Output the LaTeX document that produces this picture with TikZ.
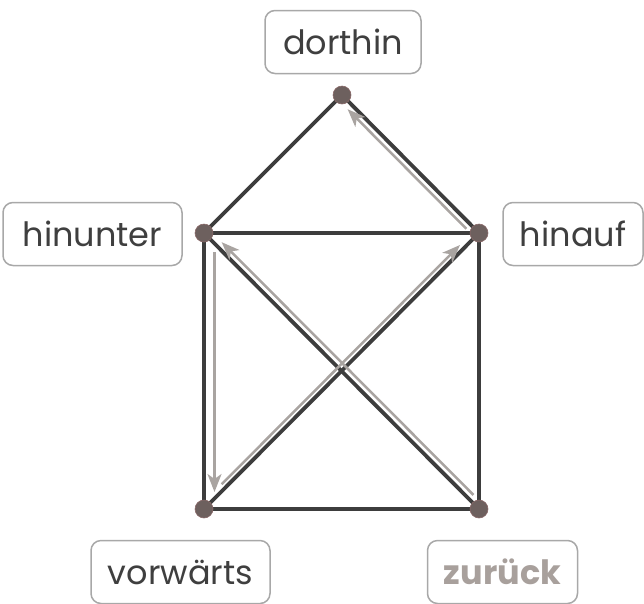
\documentclass[tikz,border=0pt]{standalone}
\usepackage{fontspec}
\setmainfont{Poppins}
\usetikzlibrary{arrows.meta}
\definecolor{edgec}{HTML}{3D3D3D}
\definecolor{arrc}{HTML}{A9A4A1}
\definecolor{dotc}{HTML}{6D605E}
\definecolor{dotb}{HTML}{8B6A6A}
\definecolor{boxc}{HTML}{A8A8A8}
\definecolor{txtc}{HTML}{3F3F3F}
\definecolor{grtxt}{HTML}{A8A09C}
\tikzset{
  edge/.style={draw=edgec, line width=3.8pt},
  arr/.style={draw=arrc, line width=2.5pt, -{Stealth[length=18pt,width=14pt,inset=5pt]}},
  vdot/.style={circle, fill=dotc, draw=dotb, line width=0.6pt, minimum size=18pt, inner sep=0pt},
  lbl/.style={draw=boxc, line width=1.5pt, rounded corners=10pt, fill=white, text=txtc,
    font=\fontsize{33.5}{38}\selectfont, minimum height=63pt, inner sep=0pt, text height=24pt, text depth=0pt}
}
\begin{document}
\begin{tikzpicture}[x=1pt,y=-1pt]
\useasboundingbox (0,0) rectangle (644,603);
\coordinate (T) at (342,95);
\coordinate (L) at (204,233);
\coordinate (R) at (479,233);
\coordinate (BL) at (204,509);
\coordinate (BR) at (479,509);
% edges
\draw[edge, line cap=round] (T) -- (L);
\draw[edge, line cap=round] (T) -- (R);
\draw[edge] (L) -- (R);
\draw[edge] (L) -- (BL);
\draw[edge] (R) -- (BR);
\draw[edge] (BL) -- (BR);
\draw[edge] (L) -- (BR);
\draw[edge] (R) -- (BL);
% arrows
\coordinate (a1s) at (466.3,228.7);
\coordinate (a1e) at (347.6,109.2);
\coordinate (a2s) at (473.4,494.9);
\coordinate (a2e) at (221.7,242.2);
\coordinate (a3s) at (221.7,484.2);
\coordinate (a3e) at (460,245);
\coordinate (a4s) at (214.5,252);
\coordinate (a4e) at (214.5,492);
\draw[arr] (a1s) -- (a1e);
\draw[arr] (a2s) -- (a2e);
\draw[arr] (a3s) -- (a3e);
\draw[arr] (a4s) -- (a4e);
% dots
\node[vdot] (dT) at (T) {};
\node[vdot] (dL) at (L) {};
\node[vdot] (dR) at (R) {};
\node[vdot] (dBL) at (BL) {};
\node[vdot] (dBR) at (BR) {};
% labels
\node[lbl, minimum width=156pt] (dorthin) at (343,42) {dorthin};
\node[lbl, minimum width=179pt] (hinunter) at (92.5,234) {hinunter};
\node[lbl, minimum width=140pt] (hinauf) at (573,234) {hinauf};
\node[lbl, minimum width=179pt] (vorwaerts) at (180.5,572) {vorwärts};
\node[lbl, minimum width=150pt, text=grtxt, font=\fontsize{33.5}{38}\selectfont\bfseries] (zurueck) at (502.5,572) {zurück};
\end{tikzpicture}
\end{document}
